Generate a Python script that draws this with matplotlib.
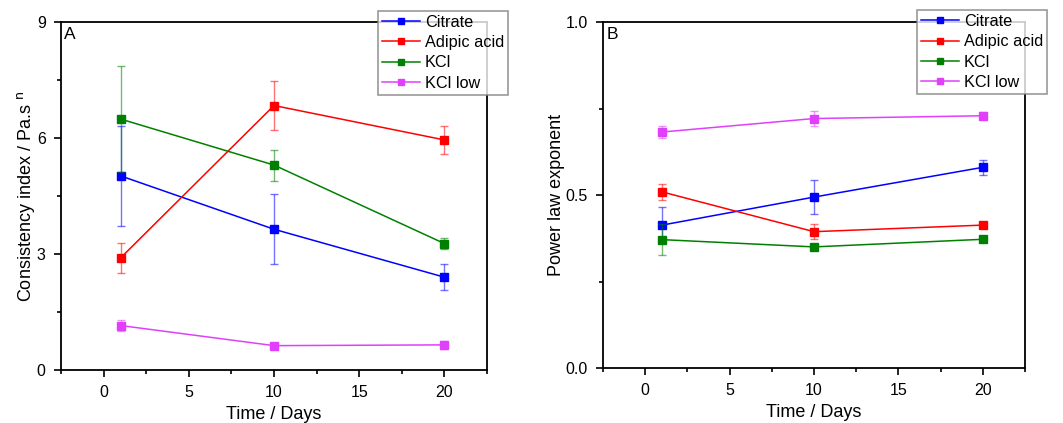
import matplotlib.pyplot as plt
from matplotlib.ticker import MultipleLocator

plt.rcParams['font.family'] = ['Liberation Sans', 'DejaVu Sans']

days = [1, 10, 20]
names = ["Citrate", "Adipic acid", "KCl", "KCl low"]
colors = ["#0000ff", "#ff0000", "#008000", "#e040fb"]

# consistency index K (Pa.s^n)
k_mean = [
    [5.02, 3.64, 2.40],
    [2.90, 6.84, 5.95],
    [6.49, 5.30, 3.27],
    [1.15, 0.63, 0.65],
]
k_err = [
    [1.30, 0.91, 0.34],
    [0.38, 0.64, 0.36],
    [1.37, 0.40, 0.15],
    [0.15, 0.05, 0.10],
]

# power law exponent n
n_mean = [
    [0.413, 0.494, 0.580],
    [0.509, 0.394, 0.413],
    [0.371, 0.350, 0.372],
    [0.682, 0.721, 0.729],
]
n_err = [
    [0.053, 0.050, 0.021],
    [0.024, 0.021, 0.005],
    [0.044, 0.008, 0.006],
    [0.018, 0.022, 0.010],
]

fig = plt.figure(figsize=(10.63, 4.23), dpi=100)
ax1 = fig.add_axes([61 / 1063, 1 - 370 / 423, 426 / 1063, 348 / 423])
ax2 = fig.add_axes([603 / 1063, 1 - 368 / 423, 422 / 1063, 346 / 423])


def draw(ax, means, errs, ymax, major, minor, ylabel, tag, fmt, legend_box):
    for name, c, m, e in zip(names, colors, means, errs):
        ax.errorbar(days, m, yerr=e, fmt='none', ecolor=c, elinewidth=1,
                    capsize=3, capthick=1, alpha=0.55)
        ax.plot(days, m, color=c, lw=1.1, marker='s', ms=5.2,
                mfc=c, mec=c, label=name)
    ax.set_xlim(-2.5, 22.5)
    ax.set_ylim(0, ymax)
    ax.xaxis.set_major_locator(MultipleLocator(5))
    ax.xaxis.set_minor_locator(MultipleLocator(2.5))
    ax.yaxis.set_major_locator(MultipleLocator(major))
    ax.yaxis.set_minor_locator(MultipleLocator(minor))
    ax.yaxis.set_major_formatter(fmt)
    ax.tick_params(which='both', direction='out', labelsize=11.5, width=1.2)
    ax.tick_params(which='major', length=5, pad=6)
    ax.tick_params(which='minor', length=3)
    for s in ax.spines.values():
        s.set_linewidth(1.3)
    ax.set_xlabel("Time / Days", fontsize=13, labelpad=4)
    ax.set_ylabel(ylabel, fontsize=13, labelpad=0)
    ax.text(0.008, 0.985, tag, transform=ax.transAxes, fontsize=12.5,
            ha='left', va='top')
    leg = ax.legend(loc='upper left', bbox_to_anchor=legend_box,
                    fontsize=11.7, frameon=True, fancybox=False,
                    borderpad=0.25, labelspacing=0.33, handlelength=2.35,
                    handletextpad=0.27, borderaxespad=0, markerscale=0.85)
    leg.get_frame().set_edgecolor('#808080')
    leg.get_frame().set_linewidth(1.2)


draw(ax1, k_mean, k_err, 9, 3, 1.5, "Consistency index / Pa.s $^{\\mathrm{n}}$", "A",
     '{x:.0f}', (317 / 426, 1 + 11.5 / 348))
draw(ax2, n_mean, n_err, 1.0, 0.5, 0.25, "Power law exponent", "B",
     '{x:.1f}', (314 / 422, 1 + 12 / 346))

fig.savefig("out.png", dpi=100)
